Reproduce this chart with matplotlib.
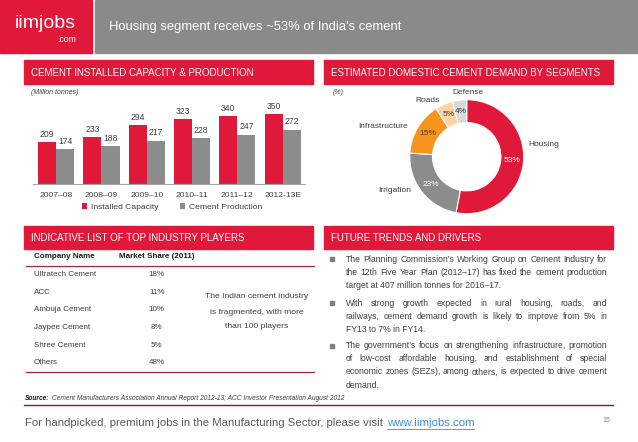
import matplotlib
matplotlib.use("Agg")
import matplotlib.pyplot as plt
from matplotlib.patches import Rectangle

plt.rcParams['font.family'] = ['Liberation Sans', 'DejaVu Sans']

# Datos del grafico de barras (millones de toneladas)
years = ["2007–08", "2008–09", "2009–10", "2010–11", "2011–12", "2012-13E"]
installed = [209, 233, 294, 323, 340, 350]
production = [174, 188, 217, 228, 247, 272]

# Datos de la dona (%)
segments = ["Housing", "Irrigation", "Infrastructure", "Roads", "Defense"]
shares = [53, 23, 15, 5, 4]

# Tabla de empresas
companies = ["Ultratech Cement", "ACC", "Ambuja Cement", "Jaypee Cement", "Shree Cement", "Others"]
market_share = [18, 11, 10, 8, 5, 48]

bullets = [
    ["The Planning Commission’s Working Group on Cement Industry for",
     "the 12th Five Year Plan (2012–17) has fixed the cement production",
     "target at 407 million tonnes for 2016–17."],
    ["With strong growth expected in rural housing, roads, and",
     "railways, cement demand growth is likely to improve from 5% in",
     "FY13 to 7% in FY14."],
    ["The government’s focus on strengthening infrastructure, promotion",
     "of low-cost affordable housing, and establishment of special",
     "economic zones (SEZs), among others, is expected to drive cement",
     "demand."],
]

RED = '#E0193A'
GRAY = '#8C8C8C'
TXT = '#404040'
W, H = 638, 442

fig = plt.figure(figsize=(W / 100, H / 100), dpi=100)
base = fig.add_axes([0, 0, 1, 1])
base.set_xlim(0, W)
base.set_ylim(H, 0)
base.axis('off')
renderer = fig.canvas.get_renderer()


def px_axes(x0, y0, x1, y1):
    return fig.add_axes([x0 / W, 1 - y1 / H, (x1 - x0) / W, (y1 - y0) / H])


# Encabezado
base.add_patch(Rectangle((0, 0), 92, 53, color=RED))
base.add_patch(Rectangle((95, 0), W - 95, 53, color='#8A8A88'))
base.text(15, 24, "iimjobs", color='white', fontsize=14, va='center', ha='left')
base.text(76, 40, ".com", color='white', fontsize=6.3, va='center', ha='right')
base.text(109, 27, "Housing segment receives ~53% of India's cement", color='white',
          fontsize=9.4, va='center', ha='left')

# Barras rojas de cada seccion
for (x0, y0, x1, y1, title) in [(24, 60, 313, 84, "CEMENT INSTALLED CAPACITY & PRODUCTION"),
                                (324, 60, 613, 84, "ESTIMATED DOMESTIC CEMENT DEMAND BY SEGMENTS"),
                                (24, 226, 313, 249, "INDICATIVE LIST OF TOP INDUSTRY PLAYERS"),
                                (324, 226, 613, 249, "FUTURE TRENDS AND DRIVERS")]:
    base.add_patch(Rectangle((x0, y0), x1 - x0, y1 - y0, color=RED))
    base.text(x0 + 7, (y0 + y1) / 2 + 0.5, title, color='white', fontsize=7, va='center', ha='left')

base.text(31, 93, "(Million tonnes)", color=TXT, fontsize=5, style='italic', va='center')
base.text(333, 93, "(%)", color=TXT, fontsize=5, style='italic', va='center')

# Grafico de barras
ax = px_axes(33.4, 100, 305.3, 184)
pos = list(range(len(years)))
b1 = ax.bar([p - 0.2 for p in pos], installed, 0.4, color=RED, label="Installed Capacity")
b2 = ax.bar([p + 0.2 for p in pos], production, 0.4, color=GRAY, label="Cement Production")
ax.bar_label(b1, padding=2.5, fontsize=6.2, color=TXT)
ax.bar_label(b2, padding=2.5, fontsize=6.2, color=TXT)
ax.set_xlim(-0.5, len(years) - 0.5)
ax.set_ylim(0, 420)
ax.set_xticks(pos)
ax.set_xticklabels(years, fontsize=6.1, color=TXT)
ax.tick_params(axis='x', length=0, pad=6)
ax.set_yticks([])
for s in ['top', 'right', 'left']:
    ax.spines[s].set_visible(False)
ax.spines['bottom'].set_color('#A6A6A6')
ax.patch.set_alpha(0)
ax.legend(loc='center', bbox_to_anchor=(172 / W, 1 - 207 / H), bbox_transform=fig.transFigure,
          ncol=2, frameon=False, fontsize=6.1, handlelength=0.6, handleheight=0.6,
          handletextpad=0.4, columnspacing=2.6, labelcolor=TXT)

# Dona
cx, cy, r = 466.7, 156.7, 57
ax2 = px_axes(cx - r, cy - r, cx + r, cy + r)
wedges, _, pcts = ax2.pie(shares, colors=[RED, GRAY, '#F7941D', '#FCD3A2', '#D9D9D9'],
                          startangle=90, counterclock=False, radius=1,
                          wedgeprops=dict(width=0.4, edgecolor='white', linewidth=0.8),
                          autopct=lambda p: f"{p:.0f}%", pctdistance=0.8,
                          textprops=dict(fontsize=6, color=TXT))
pcts[0].set_color('white')
pcts[1].set_color('white')
ax2.set_xlim(-1, 1)
ax2.set_ylim(-1, 1)
for name, (lx, ly) in zip(segments, [(544, 144), (395, 191), (383, 127), (427, 100), (468, 92)]):
    base.text(lx, ly, name, fontsize=6, color=TXT, ha='center', va='center')

# Tabla
base.text(34, 257, "Company Name", fontsize=5.8, fontweight='bold', color='#1A1A1A', va='center')
base.text(156.5, 257, "Market Share (2011)", fontsize=5.8, fontweight='bold', color='#1A1A1A',
          va='center', ha='center')
base.plot([26, 314], [265.5, 265.5], color='#B0263A', lw=0.9)
base.plot([26, 314], [372.3, 372.3], color='#B0263A', lw=0.9)
for i, (c, m) in enumerate(zip(companies, market_share)):
    y = 274.3 + i * 17.7
    base.text(34, y, c, fontsize=5.8, color=TXT, va='center')
    base.text(156.7, y, f"{m}%", fontsize=5.8, color=TXT, va='center', ha='center')
for y, line in zip([297, 312, 326], ["The Indian cement industry", "is fragmented, with more",
                                     "than 100 players"]):
    base.text(257, y, line, fontsize=6.1, color=TXT, va='center', ha='center')


# Texto justificado de las tendencias
def justified(lines, x0, x1, y0, step, **kw):
    for k, line in enumerate(lines):
        y = y0 + k * step
        words = line.split()
        if k == len(lines) - 1:
            base.text(x0, y, line, va='center', ha='left', **kw)
            continue
        texts = [base.text(0, y, w, va='center', ha='left', **kw) for w in words]
        widths = [t.get_window_extent(renderer).width for t in texts]
        gap = (x1 - x0 - sum(widths)) / (len(words) - 1)
        x = x0
        for t, w in zip(texts, widths):
            t.set_x(x)
            x += w + gap


for lines, y0 in zip(bullets, [259.3, 303.3, 345.7]):
    base.plot([332.3], [y0], marker='s', ms=2.2, color='#7F7F7F')
    justified(lines, 345.7, 607.3, y0, 13.1, fontsize=6.2, color=TXT)

# Fuente
t = base.text(25, 399, "Source:", fontsize=4.75, fontweight='bold', style='italic', color='#1A1A1A',
              va='center')
w = t.get_window_extent(renderer).width
base.text(25 + w + 2, 399,
          "Cement Manufacturers Association Annual Report 2012-13; ACC Investor Presentation August 2012",
          fontsize=4.75, style='italic', color=TXT, va='center')
base.plot([24, 613], [405, 405], color='#8B1A1A', lw=1.0)

# Pie de pagina
t = base.text(25, 423, "For handpicked, premium jobs in the Manufacturing Sector, please visit",
              fontsize=8.2, color='#595959', va='center')
w = t.get_window_extent(renderer).width
lk = base.text(25 + w + 3.8, 423, "www.iimjobs.com", fontsize=8.2, color='#3F8FD2', va='center')
wl = lk.get_window_extent(renderer).width
base.plot([25 + w + 3.8, 25 + w + 3.8 + wl], [429, 429], color='#3F8FD2', lw=0.6)
base.text(606, 421, "15", fontsize=5, color='#8C8C8C', va='center', ha='center')

fig.savefig("out.png", dpi=100)
